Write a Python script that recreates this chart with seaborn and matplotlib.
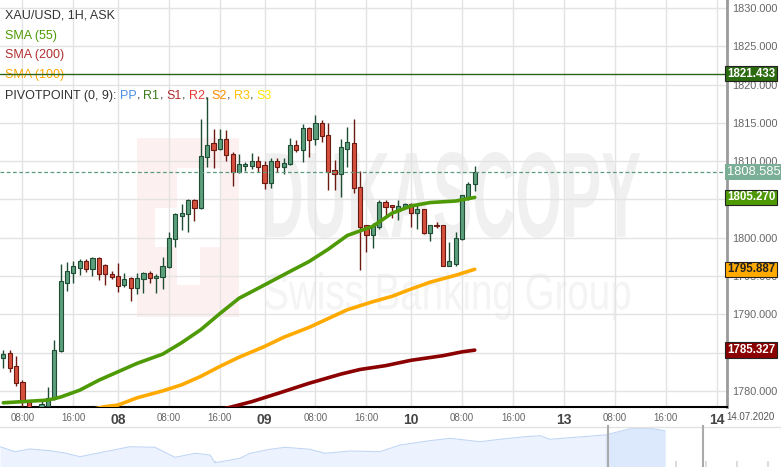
import numpy as np
import pandas as pd
import seaborn as sns
import matplotlib.pyplot as plt
import matplotlib.transforms as mtransforms
from matplotlib.patches import Rectangle, PathPatch
from matplotlib.textpath import TextPath
from matplotlib.font_manager import FontProperties

# XAU/USD 1H ask candles, 07.07.2020 05:00 -> 10.07.2020 10:00
# (23 bars a day, the 23:00 break hour is not drawn)
opens = [1784.27, 1784.92, 1783.26, 1781.14, 1778.66, 1777.30, 1777.20, 1778.08, 1778.92, 1785.22,
         1794.14, 1795.44, 1796.10, 1796.93, 1795.89, 1797.32, 1796.45, 1795.27, 1795.01, 1793.88,
         1794.71, 1793.41, 1794.58, 1795.37, 1794.71, 1794.84, 1796.15, 1799.80, 1802.89, 1803.07,
         1804.94, 1803.85, 1810.51, 1812.42, 1811.55, 1812.86, 1810.94, 1808.63, 1809.41, 1809.41,
         1810.03, 1809.47, 1807.12, 1810.03, 1809.28, 1809.61, 1812.12, 1811.46, 1814.30, 1812.86,
         1814.95, 1813.42, 1808.85, 1808.33, 1811.55, 1812.34, 1806.59, 1801.63, 1800.33, 1801.45,
         1804.67, 1804.24, 1803.54, 1803.93, 1804.41, 1803.28, 1803.76, 1800.59, 1801.67, 1801.63,
         1796.36, 1796.58, 1799.80, 1805.37, 1806.98]
highs = [1785.35, 1785.35, 1784.57, 1781.44, 1778.80, 1777.70, 1778.83, 1780.52, 1786.66, 1796.58,
         1796.80, 1797.01, 1797.23, 1797.19, 1797.53, 1797.43, 1796.58, 1795.67, 1796.67, 1795.37,
         1794.84, 1795.37, 1795.50, 1795.67, 1795.27, 1797.53, 1800.72, 1803.20, 1804.41, 1805.07,
         1805.07, 1815.47, 1818.42, 1814.16, 1814.16, 1814.07, 1811.24, 1810.94, 1809.94, 1811.03,
         1810.68, 1810.00, 1810.38, 1810.38, 1810.38, 1813.03, 1812.77, 1814.86, 1814.40, 1816.03,
         1815.38, 1815.05, 1810.16, 1812.86, 1814.43, 1815.51, 1808.72, 1801.67, 1801.89, 1804.94,
         1804.94, 1804.28, 1804.94, 1804.50, 1804.50, 1804.28, 1803.80, 1801.70, 1802.06, 1801.70,
         1799.41, 1800.80, 1805.63, 1807.32, 1809.37]
lows = [1782.96, 1782.52, 1780.69, 1777.95, 1776.80, 1776.50, 1776.90, 1777.95, 1778.83, 1785.13,
        1793.09, 1794.14, 1795.14, 1795.50, 1795.01, 1794.49, 1793.84, 1794.58, 1792.96, 1793.62,
        1791.79, 1792.66, 1792.83, 1794.06, 1792.83, 1793.28, 1796.00, 1798.84, 1801.02, 1800.72,
        1802.23, 1803.70, 1809.28, 1809.07, 1811.46, 1810.07, 1806.80, 1808.42, 1808.76, 1808.98,
        1808.63, 1806.35, 1806.46, 1808.63, 1808.33, 1809.55, 1811.14, 1809.94, 1810.55, 1812.08,
        1812.47, 1806.18, 1806.24, 1805.37, 1809.28, 1805.81, 1795.80, 1798.19, 1798.71, 1801.11,
        1802.68, 1802.55, 1802.32, 1803.85, 1801.45, 1801.15, 1800.50, 1799.62, 1801.24, 1796.30,
        1796.30, 1796.36, 1799.71, 1804.94, 1806.15]
closes = [1784.79, 1782.96, 1781.01, 1778.52, 1777.30, 1777.00, 1778.30, 1779.05, 1785.35, 1794.36,
          1795.63, 1796.32, 1796.97, 1795.93, 1797.32, 1795.24, 1795.24, 1794.84, 1793.75, 1794.62,
          1793.41, 1794.71, 1795.40, 1794.71, 1795.01, 1796.28, 1799.94, 1803.07, 1803.20, 1804.94,
          1803.85, 1810.68, 1812.12, 1811.46, 1812.86, 1810.81, 1808.63, 1809.63, 1809.63, 1810.03,
          1809.28, 1807.12, 1809.99, 1809.28, 1809.73, 1812.12, 1811.46, 1814.30, 1812.81, 1814.95,
          1813.25, 1808.63, 1808.33, 1811.82, 1812.47, 1806.46, 1801.45, 1800.33, 1801.54, 1804.67,
          1804.06, 1803.98, 1804.15, 1804.41, 1803.28, 1803.76, 1800.59, 1801.67, 1801.54, 1796.36,
          1796.97, 1800.01, 1805.55, 1807.02, 1808.585]

# moving averages, read at some bar numbers
sma55_bar = [0, 3, 7, 9, 12, 15, 18, 21, 25, 28, 31, 34, 37, 40, 45, 48, 51, 54, 58, 61, 64, 67, 71, 74]
sma55_val = [1778.45, 1778.6, 1778.8, 1779.2, 1780.1, 1781.4, 1782.5, 1783.6, 1784.8, 1786.3, 1788.0,
             1790.1, 1792.1, 1793.4, 1795.6, 1796.9, 1798.5, 1800.3, 1801.5, 1803.2, 1804.15, 1804.6,
             1804.8, 1805.27]
sma100_bar = [14, 16, 18, 21, 25, 28, 31, 34, 37, 41, 44, 48, 51, 54, 58, 61, 64, 67, 71, 74]
sma100_val = [1777.6, 1777.95, 1778.15, 1779.1, 1780.0, 1780.8, 1781.9, 1783.2, 1784.4, 1785.8, 1787.0,
              1788.3, 1789.45, 1790.6, 1791.65, 1792.35, 1793.3, 1794.2, 1795.1, 1795.887]
sma200_bar = [31, 36, 39, 43, 48, 53, 56, 60, 64, 69, 72, 74]
sma200_val = [1776.9, 1777.95, 1778.6, 1779.65, 1781.0, 1782.2, 1782.8, 1783.3, 1784.0, 1784.6, 1785.1,
              1785.327]

pivot_r1 = 1821.433
last_price = 1808.585

tick_bar = [3, 11, 18, 26, 34, 41, 49, 57, 64, 72, 80, 88, 96, 104, 112]
tick_lab = ["08:00", "16:00", "08", "08:00", "16:00", "09", "08:00", "16:00", "10",
            "08:00", "16:00", "13", "08:00", "16:00", "14"]
day_labels = ["08", "09", "10", "13", "14"]
price_ticks = [1780, 1785, 1790, 1795, 1800, 1805, 1810, 1815, 1820, 1825, 1830]

# navigator strip at the bottom (position along strip, level)
nav_x = [0, 15, 30, 50, 65, 80, 100, 130, 155, 175, 195, 210, 215, 240, 250, 270, 285, 310, 325,
         350, 380, 400, 430, 450, 480, 500, 525, 540, 550, 575, 605, 612, 632, 650, 665]
nav_level = [20.3, 15.3, 18, 16.3, 14, 10.3, 14.3, 20.3, 19.7, 9.7, 13.7, 12, 4.3, 8.7, 13.7, 17.7,
             19.7, 17.7, 13.7, 16, 15.3, 22, 26.3, 28.7, 25.3, 27.7, 30.3, 31.3, 27.7, 29.7, 32,
             33.7, 38.7, 38.7, 36.3]

sns.set_theme(style="white")
plt.rcParams["font.family"] = ["Liberation Sans", "DejaVu Sans"]

W, H = 781, 467
fig = plt.figure(figsize=(W / 100, H / 100), dpi=100)
ax = fig.add_axes([0, 60 / H, 727 / W, 407 / H])

hours = pd.date_range("2020-07-07 05:00", "2020-07-10 10:00", freq="h")
hours = hours[hours.hour != 23]
df = pd.DataFrame({"time": hours, "open": opens, "high": highs, "low": lows, "close": closes})
df["bar"] = np.arange(len(df))
up = df["close"] >= df["open"]

# watermark
def px_rect(l, t, r, b, color):
    ax.add_patch(Rectangle((l / W, 1 - b / H), (r - l) / W, (b - t) / H, transform=fig.transFigure,
                           fc=color, ec="none", zorder=0.2))

def stamp(text, l, t, r, b, weight, color):
    tp = TextPath((0, 0), text, size=50, prop=FontProperties(family="Liberation Sans", weight=weight))
    e = tp.get_extents()
    tr = (mtransforms.Affine2D().translate(-e.x0, -e.y0)
          .scale((r - l) / e.width / W, (b - t) / e.height / H)
          .translate(l / W, 1 - b / H) + fig.transFigure)
    ax.add_patch(PathPatch(tp, transform=tr, fc=color, ec="none", zorder=0.2))

px_rect(137, 138, 239, 317, "#fdf0f0")
px_rect(177, 168, 220, 247, "white")
px_rect(155, 208, 177, 247, "white")
px_rect(177, 247, 200, 285, "white")
stamp("DUKASCOPY", 265, 152, 640, 238, "bold", "#f0f0f0")
stamp("Swiss Banking Group", 265, 272, 630, 320, "normal", "#f4f4f4")

# candles
edge = np.where(up, "#1e4d34", "#6b1a12")
fill = np.where(up, "#5c9f7c", "#d6503e")
body_lo = np.minimum(df["open"], df["close"])
body_h = np.maximum((df["close"] - df["open"]).abs(), 0.08)
ax.vlines(df["bar"], df["low"], df["high"], colors=edge, lw=1, zorder=3)
ax.bar(df["bar"], body_h, bottom=body_lo, width=0.66, color=fill, edgecolor=edge, linewidth=0.8, zorder=4)

sns.lineplot(x=sma200_bar, y=sma200_val, color="#8b0000", lw=2.6, ax=ax, zorder=5)
sns.lineplot(x=sma100_bar, y=sma100_val, color="#ffaa00", lw=2.6, ax=ax, zorder=5)
sns.lineplot(x=sma55_bar, y=sma55_val, color="#4e9a06", lw=2.6, ax=ax, zorder=5)

ax.axhline(pivot_r1, color="#2a6414", lw=1, zorder=6)
ax.axhline(last_price, color="#5e9a7e", lw=0.9, ls=(0, (3, 2)), zorder=6)

ax.set_xlim(-0.52, 113.6)
ax.set_ylim(1777.9, 1831.05)
ax.set_xlabel("")
ax.set_ylabel("")

ax.grid(True, color="#e3e3e3", lw=1)
ax.set_axisbelow(True)
ax.yaxis.tick_right()
ax.set_yticks(price_ticks, [f"{p:.3f}" for p in price_ticks])
ax.tick_params(axis="y", length=0, pad=4, labelsize=7.8, labelcolor="#666666")
ax.set_xticks(tick_bar, tick_lab)
ax.tick_params(axis="x", length=0, pad=4)
for lab in ax.get_xticklabels():
    if lab.get_text() in day_labels:
        lab.set_fontsize(10)
        lab.set_fontweight("bold")
        lab.set_color("#444444")
    else:
        lab.set_fontsize(7)
        lab.set_color("#666666")
for s in ["top", "left"]:
    ax.spines[s].set_visible(False)
ax.spines["right"].set_color("#9a9a9a")
ax.spines["right"].set_linewidth(2)
ax.spines["bottom"].set_color("black")
ax.spines["bottom"].set_linewidth(1.5)

# price tags on the right axis
blend = mtransforms.blended_transform_factory(ax.transAxes, ax.transData)
tags = [(pivot_r1, "#2b6b10", "white", 8.3), (last_price, "#7aae96", "white", 9.3),
        (1805.270, "#4e9a06", "white", 8.3), (1795.887, "#ffaa00", "#222222", 8.3),
        (1785.327, "#8b0000", "white", 8.3)]
for price, bg, fg, fs in tags:
    big = price == last_price
    ax.text(1.0, price, f"{price:.3f}", transform=blend, ha="left", va="center", fontsize=fs,
            color=fg, fontweight="normal" if big else "bold", zorder=8, clip_on=False,
            bbox=dict(boxstyle="square,pad=0.12" if big else "square,pad=0.15", fc=bg,
                      ec="none" if big else "#222222", lw=0.8))

fig.text(750 / W, 1 - 417 / H, "14.07.2020", ha="center", va="center", fontsize=7, color="#555555")

# legend block, top left
rows = [("XAU/USD, 1H, ASK", "#333333", 15), ("SMA (55)", "#4e9a06", 36),
        ("SMA (200)", "#b03030", 55), ("SMA (100)", "#ffa500", 75)]
for txt, c, py in rows:
    ax.text(5 / W, 1 - py / H, txt, transform=fig.transFigure, color=c, fontsize=9,
            va="center", ha="left", zorder=1)
parts = [("PIVOTPOINT (0, 9): ", "#333333"), ("PP", "#4a90e2"), (", ", "#333333"),
         ("R1", "#3a7a1a"), (", ", "#333333"), ("S1", "#b03030"), (", ", "#333333"),
         ("R2", "#e53935"), (", ", "#333333"), ("S2", "#ff8c00"), (", ", "#333333"),
         ("R3", "#ffc107"), (", ", "#333333"), ("S3", "#ffe600")]
prev = ax.text(5 / W, 1 - 96 / H, parts[0][0], transform=fig.transFigure, color=parts[0][1],
               fontsize=9, va="center", ha="left", zorder=1)
for txt, c in parts[1:]:
    prev = ax.annotate(txt, xy=(1, 0), xycoords=prev, va="bottom", ha="left", color=c,
                       fontsize=9, zorder=1)

# navigator
nav = fig.add_axes([0, 0, 1, 42 / H])
nav.set_xlim(0, W)
nav.set_ylim(0, 42)
nav.fill_between(nav_x, nav_level, 0, color="#ecf3fe", lw=0)
nav.plot(nav_x, nav_level, color="#c2d7f5", lw=0.8)
sel = [i for i, x in enumerate(nav_x) if x >= 605]
nav.fill_between([nav_x[i] for i in sel], [nav_level[i] for i in sel], 0, color="#dce8fb", lw=0)
nav.axhline(40, color="#e2e2e2", lw=1)
nav.axvline(608, color="#aaaaaa", lw=1.5)
nav.axvline(703, color="#aaaaaa", lw=1.5)
nav.set_xticks(np.arange(31, 781, 30.7))
nav.set_yticks([])
nav.tick_params(axis="x", direction="in", length=4, color="#d8d8d8", labelbottom=False, bottom=True)
for s in nav.spines.values():
    s.set_visible(False)

fig.savefig("out.png", dpi=100)
